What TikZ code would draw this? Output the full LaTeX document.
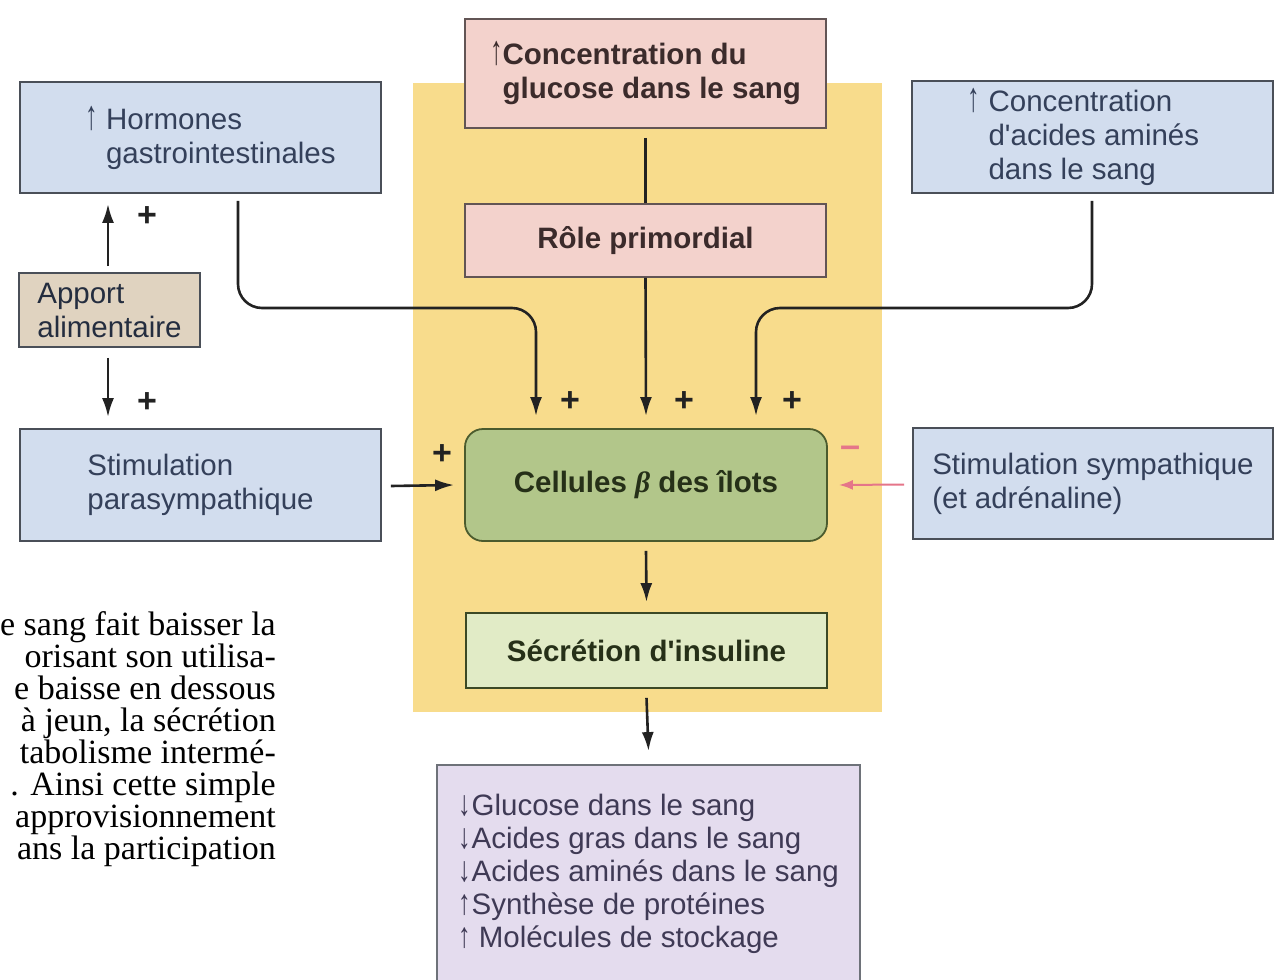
\documentclass[tikz,border=0pt]{standalone}
\usepackage{fontspec}
\usepackage{graphicx}
\setmainfont{Liberation Sans}[Ligatures=TeXOff]
\newfontfamily\bookserif{Liberation Serif}
\usetikzlibrary{arrows.meta}
\definecolor{yellowbg}{HTML}{F8DC8C}
\definecolor{blueF}{HTML}{D2DDEE}
\definecolor{blueT}{HTML}{34405A}
\definecolor{pinkF}{HTML}{F3D2CC}
\definecolor{pinkT}{HTML}{3B2B2B}
\definecolor{tanF}{HTML}{E0D3C0}
\definecolor{greenF}{HTML}{B2C68A}
\definecolor{greenL}{HTML}{4B5B2E}
\definecolor{greenT}{HTML}{263018}
\definecolor{lgreenF}{HTML}{E1EBC6}
\definecolor{lavF}{HTML}{E4DCEE}
\definecolor{lavT}{HTML}{3F3A55}
\definecolor{boxline}{HTML}{4A4F58}
\definecolor{conn}{HTML}{222222}
\definecolor{pinkarrow}{HTML}{E57589}
\newcommand\upar{\scalebox{0.85}[1.4]{\mdseries ↑}}
\newcommand\upsm{\scalebox{0.85}[1.2]{\mdseries ↑}}
\newcommand\dnsm{\scalebox{0.85}[1.2]{\mdseries ↓}}
\begin{document}
\begin{tikzpicture}[x=1pt,y=-1pt,
  box/.style={draw=boxline, line width=1.8pt, inner sep=0pt, align=left,
    font=\fontsize{29.5}{34}\selectfont},
  bluebox/.style={box, fill=blueF, text=blueT},
  pinkbox/.style={box, fill=pinkF, text=pinkT, draw=pinkT!80, font=\fontsize{29.5}{34}\selectfont\bfseries},
  tanbox/.style={box, fill=tanF, text=blueT!70!black},
  cellbox/.style={box, fill=greenF, draw=greenL, text=greenT, rounded corners=18pt, align=center,
    font=\fontsize{29.5}{34}\selectfont\bfseries},
  secrbox/.style={box, fill=lgreenF, draw=greenL!80!black, text=greenT, align=center,
    font=\fontsize{29.5}{34}\selectfont\bfseries},
  lavbox/.style={box, fill=lavF, text=lavT, draw=boxline!80, font=\fontsize{29.5}{33}\selectfont},
  line/.style={draw=conn, line width=2.6pt},
  arr/.style={line, -{Latex[length=19pt,width=12pt]}},
  parr/.style={draw=pinkarrow, line width=2pt, -{Latex[length=14pt,width=10pt]}},
  plus/.style={font=\fontsize{34}{34}\selectfont\bfseries, text=conn, inner sep=0pt},
  minus/.style={font=\fontsize{36}{36}\selectfont\bfseries, text=pinkarrow, inner sep=0pt},
  prose/.style={font=\bookserif\fontsize{34}{32}\selectfont, text=black, inner sep=0pt, anchor=base east}
]
\clip (0,0) rectangle (1281,979);
\fill[white] (0,0) rectangle (1281,979);
\fill[yellowbg] (413,83) rectangle (882,712);

% prose fragments on the left
\node[prose] (t1) at (276,635) {e sang fait baisser la};
\node[prose] (t2) at (276,667) {orisant son utilisa-};
\node[prose] (t3) at (276,699) {e baisse en dessous};
\node[prose] (t4) at (276,731) {à jeun, la sécrétion};
\node[prose] (t5) at (276,763) {tabolisme intermé-};
\node[prose] (t6) at (276,795) {. Ainsi cette simple};
\node[prose] (t7) at (276,827) {approvisionnement};
\node[prose] (t8) at (276,859) {ans la participation};

% boxes
\node[bluebox, minimum width=361pt, minimum height=111pt] (horm) at (200.5,137.5)
  {\hspace*{20pt}\upar\ Hormones\\\hspace*{20pt}\phantom{\upar\ }gastrointestinales};
\node[tanbox, minimum width=181pt, minimum height=74pt] (apport) at (109.5,310)
  {Apport\\alimentaire};
\node[bluebox, minimum width=361pt, minimum height=112pt] (para) at (200.5,485)
  {Stimulation\\parasympathique};
\node[pinkbox, minimum width=361pt, minimum height=109pt] (gluc) at (645.5,73.5)
  {\upar Concentration du\\\phantom{\upar}glucose dans le sang};
\node[pinkbox, minimum width=361pt, minimum height=73pt] (role) at (645.5,240.5)
  {Rôle primordial};
\node[bluebox, minimum width=361pt, minimum height=112pt] (amino) at (1092.5,137)
  {\upar\ Concentration\\\phantom{\upar\ }d'acides aminés\rule{18pt}{0pt}\\\phantom{\upar\ }dans le sang};
\node[cellbox, minimum width=362pt, minimum height=112pt] (cell) at (646,485)
  {Cellules {\bookserif\bfseries\itshape β} des îlots};
\node[bluebox, minimum width=360pt, minimum height=111pt] (symp) at (1093,483.5)
  {Stimulation sympathique\\(et adrénaline)};
\node[secrbox, minimum width=361pt, minimum height=75pt] (secr) at (646.5,650.5)
  {Sécrétion d'insuline};
\node[lavbox, minimum width=423pt, minimum height=217pt] (eff) at (648.5,873.5)
  {\dnsm\kern1pt Glucose dans le sang\\\dnsm\kern1pt Acides gras dans le sang\\\dnsm\kern1pt Acides aminés dans le sang\\\upsm\kern1pt Synthèse de protéines\\\upsm\ Molécules de stockage};

% bend coordinates
\coordinate (lbend) at (536,308);
\coordinate (rbend) at (756,308);

% connectors
\draw[line] ([yshift=-9pt]gluc.south) -- (role.north);
\draw[arr] (role.south) -- ([yshift=12pt]cell.north);
\draw[arr, rounded corners=24pt] ([xshift=37.5pt,yshift=-7pt]horm.south) |- (lbend) -- ([yshift=12pt]cell.north -| lbend);
\draw[arr, rounded corners=24pt] ([xshift=-0.5pt,yshift=-7pt]amino.south) |- (rbend) -- ([yshift=12pt]cell.north -| rbend);
\draw[arr] ([xshift=-1.5pt,yshift=6pt]apport.north) -- ([xshift=-1.5pt,yshift=-10pt]apport.north |- horm.south);
\draw[arr] ([xshift=-1.5pt,yshift=-10pt]apport.south) -- ([xshift=-1.5pt,yshift=11pt]apport.south |- para.north);
\draw[arr] ([xshift=9pt,yshift=-1pt]para.east) -- ([xshift=-10pt]cell.west);
\draw[parr] ([xshift=-8pt,yshift=-1pt]symp.west) -- ([xshift=11pt]cell.east);
\draw[arr] ([yshift=-9pt]cell.south) -- ([yshift=10pt]secr.north);
\draw[arr] ([yshift=-9pt]secr.south) -- ([yshift=13pt]eff.north);

% signs
\node[plus] (p1) at (570,402) {+};
\node[plus] (p2) at (684,402) {+};
\node[plus] (p3) at (792,402) {+};
\node[plus] (p4) at (147,217) {+};
\node[plus] (p5) at (147,403) {+};
\node[plus] (p6) at (442,455) {+};
\node[minus] (m1) at (850,452) {–};
\end{tikzpicture}
\end{document}
